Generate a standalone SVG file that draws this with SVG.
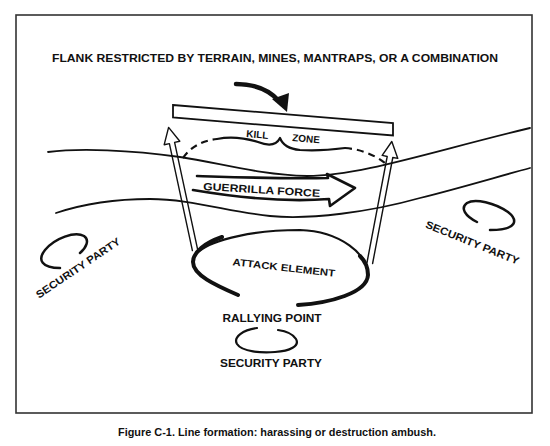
<svg xmlns="http://www.w3.org/2000/svg" width="550" height="446" viewBox="0 0 550 446">
<style>
text{font-family:"Liberation Sans",Arial,sans-serif;font-weight:bold;fill:#111}
.ln{fill:none;stroke:#111;stroke-linecap:round;stroke-linejoin:round}
.dash{fill:none;stroke:#111;stroke-width:2.2;stroke-dasharray:7 5}
</style>
<rect x="0" y="0" width="550" height="446" fill="#fff"/>
<rect x="16" y="15" width="516" height="398" fill="none" stroke="#333" stroke-width="1.6"/>
<text x="275" y="62" font-size="11" text-anchor="middle" textLength="446" lengthAdjust="spacingAndGlyphs">FLANK RESTRICTED BY TERRAIN, MINES, MANTRAPS, OR A COMBINATION</text>

<g id="connectors">
  <!-- roads -->
  <path class="ln" stroke-width="1.8" d="M48,152 C80,148 130,150 180,157 C220,163 260,175 307,176 C360,176 430,152 530,128"/>
  <path class="ln" stroke-width="1.8" d="M56,213 C80,205 110,199 150,199 C190,199 230,212 270,216 C310,220 370,212 420,198 C460,188 500,176 530,168"/>
  <!-- curved pointer arrow -->
  <path class="ln" stroke-width="4.5" d="M236,84 C255,84 270,91 279,101"/>
  <polygon points="272,99 289,93 287,112" fill="#111"/>
  <!-- left open arrow -->
  <polyline class="ln" stroke-width="1.4" points="192.4,250.6 169.4,143.6 164.2,144.7 168.6,127.4 179.8,141.3 174.6,142.4 197.6,249.4"/>
  <!-- right open arrow -->
  <polyline class="ln" stroke-width="1.4" points="367,262.5 387.2,156.5 382.2,155.4 391.8,141.5 397.8,158.4 392.8,157.5 372.6,263.5"/>
</g>

<g id="kill-zone">
  <polygon points="173,105 393,123 393,135.5 173,117.5" fill="#fff" stroke="#111" stroke-width="1.8"/>
  <path class="dash" d="M183,158 C190,148 200,141 217,139"/>
  <path class="ln" stroke-width="2.2" d="M217,139 C232,136 245,138 258,142 C268,146 276,146 280,138 C283,146 290,149 300,150 C315,151 330,150 345,148"/>
  <path class="dash" d="M345,148 C360,149 375,155 385,163"/>
  <text font-size="10" transform="translate(246,137) rotate(5)">KILL</text>
  <text font-size="10" transform="translate(292,141) rotate(5)">ZONE</text>
</g>

<g id="guerrilla-force">
  <path class="ln" stroke-width="2.6" d="M197,176 C230,177 280,179 328,178 L327,174 L355,188 L330,206 L329,199 C290,202 240,198 193,190"/>
  <text font-size="10.5" transform="translate(203,190) rotate(3.4)" textLength="117" lengthAdjust="spacingAndGlyphs">GUERRILLA  FORCE</text>
</g>

<g id="attack-element">
  <path class="ln" stroke-width="2.2" d="M238,295 C215,285 193,275 193,262 C193,245 240,230 300,230 C340,231 369,255 368,275 C367,293 330,303 298,305"/>
  <path class="ln" stroke-width="4" d="M238,295 C215,285 193,275 193,262 C193,252 205,243 222,237"/>
  <path class="ln" stroke-width="4" d="M360,256 C366,262 368,268 368,275 C367,293 330,303 298,305"/>
  <text font-size="10" text-anchor="middle" transform="translate(283.5,271) rotate(6.5)" textLength="103" lengthAdjust="spacingAndGlyphs">ATTACK ELEMENT</text>
</g>

<g id="rallying-point">
  <text x="272" y="322" font-size="10.5" text-anchor="middle" textLength="99" lengthAdjust="spacingAndGlyphs">RALLYING POINT</text>
</g>

<g id="security-left">
  <path class="ln" stroke-width="2.5" d="M80,253 C86,248 90,240 84,236 C75,231 55,238 45,250 C37,260 42,268 60,268"/>
  <text font-size="10.5" text-anchor="middle" transform="translate(80,271) rotate(-34)" textLength="99" lengthAdjust="spacingAndGlyphs">SECURITY PARTY</text>
</g>

<g id="security-right">
  <path class="ln" stroke-width="2.5" d="M477,222 C465,216 460,208 467,203 C475,198 495,203 508,212 C518,220 518,230 490,230"/>
  <text font-size="10.5" text-anchor="middle" transform="translate(471,246) rotate(22)" textLength="100" lengthAdjust="spacingAndGlyphs">SECURITY PARTY</text>
</g>

<g id="security-bottom">
  <path class="ln" stroke-width="2.2" d="M257,328 C243,330 233,337 237,344 C242,352 262,353 275,352 C290,351 300,346 296,339 C293,334 285,331 278,330"/>
  <text x="271" y="367" font-size="10.5" text-anchor="middle" textLength="102" lengthAdjust="spacingAndGlyphs">SECURITY PARTY</text>
</g>

<text x="277" y="436" font-size="11.5" text-anchor="middle" textLength="318" lengthAdjust="spacingAndGlyphs">Figure C-1. Line formation: harassing or destruction ambush.</text>
</svg>
